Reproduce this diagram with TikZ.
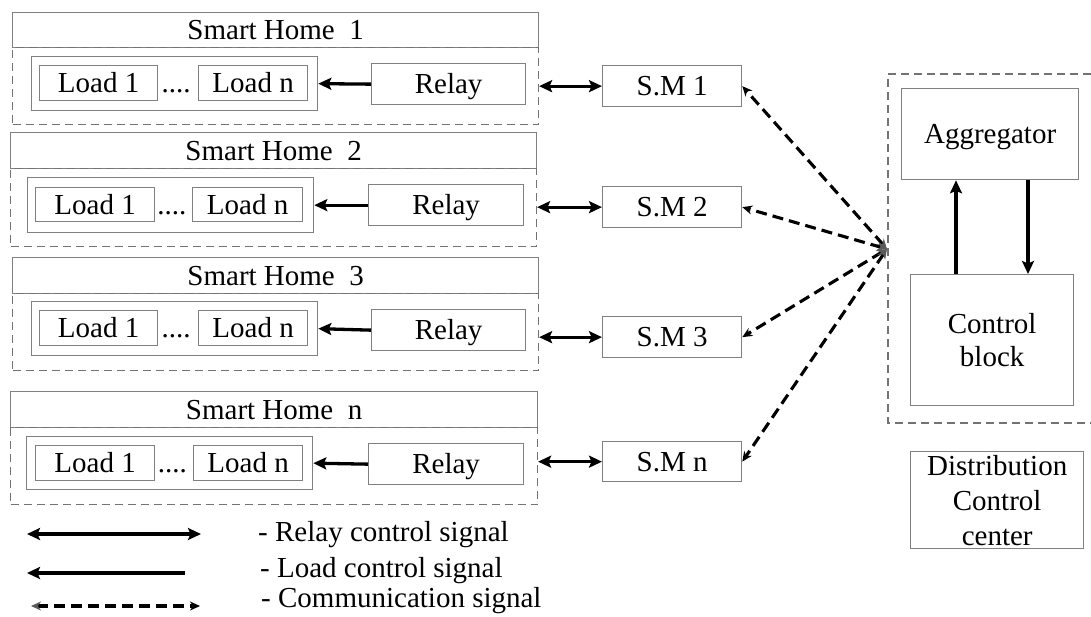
\documentclass[tikz,border=0pt]{standalone}
\usepackage{fontspec}
\setmainfont{Liberation Serif}
\usetikzlibrary{arrows.meta,calc}
\newcommand\dfont{\fontsize{29}{34}\selectfont}

\tikzset{
  box/.style={draw=black!50, line width=1.3pt, inner sep=0pt, anchor=north west,
              font=\dfont, align=center},
  onel/.style={text height=19pt, text depth=0pt},
  dbox/.style={draw=black!55, line width=1.1pt, dash pattern=on 8pt off 5pt,
               inner sep=0pt, anchor=north west},
  relayarrow/.style={line width=3.3pt,
     {Stealth[length=13pt,width=12pt,inset=2.5pt]}-{Stealth[length=13pt,width=12pt,inset=2.5pt]}},
  loadarrow/.style={line width=3.3pt, -{Stealth[length=13pt,width=12pt,inset=2.5pt]}},
  commarrow/.style={line width=3.1pt, dash pattern=on 11pt off 6pt,
     {Stealth[length=10pt,width=9pt,color=black!65]}-{Stealth[length=10pt,width=9pt]}},
  legtext/.style={anchor=base west, inner sep=0pt, font=\dfont},
}

\begin{document}
\begin{tikzpicture}[x=1pt,y=-1pt]
\useasboundingbox (0,0) rectangle (1091,616);

% ---------- smart homes: title, dashed frame, loads and relay ----------
% Smart Home 1
\node[box, onel, minimum width=526pt, minimum height=35pt] (t1) at (12,12) {Smart Home\ \ 1};
\node[dbox, minimum width=526pt, minimum height=77pt] (d1) at (12,47) {};
\node[box, minimum width=286pt, minimum height=54pt] (c1) at (31,56) {};
\node[box, onel, minimum width=118pt, minimum height=35pt] (la1) at (39,65) {Load 1};
\node[box, onel, minimum width=109pt, minimum height=35pt] (lb1) at (198,65) {Load n};
\node[box, onel, minimum width=154pt, minimum height=41pt] (r1) at (371,63) {Relay};

% Smart Home 2
\node[box, onel, minimum width=526pt, minimum height=36pt] (t2) at (10,132) {Smart Home\ \ 2};
\node[dbox, minimum width=526pt, minimum height=78pt] (d2) at (10,168) {};
\node[box, minimum width=286pt, minimum height=55pt] (c2) at (27,177) {};
\node[box, onel, minimum width=119pt, minimum height=34pt] (la2) at (35,187) {Load 1};
\node[box, onel, minimum width=110pt, minimum height=34pt] (lb2) at (192,187) {Load n};
\node[box, onel, minimum width=155pt, minimum height=41pt] (r2) at (368,184) {Relay};

% Smart Home 3
\node[box, onel, minimum width=526pt, minimum height=36pt] (t3) at (12,257) {Smart Home\ \ 3};
\node[dbox, minimum width=526pt, minimum height=77pt] (d3) at (12,293) {};
\node[box, minimum width=286pt, minimum height=54pt] (c3) at (31,301) {};
\node[box, onel, minimum width=118pt, minimum height=35pt] (la3) at (39,310) {Load 1};
\node[box, onel, minimum width=109pt, minimum height=35pt] (lb3) at (198,310) {Load n};
\node[box, onel, minimum width=154pt, minimum height=41pt] (r3) at (371,309) {Relay};

% Smart Home n
\node[box, onel, minimum width=527pt, minimum height=36pt] (t4) at (10,391) {Smart Home\ \ n};
\node[dbox, minimum width=527pt, minimum height=77pt] (d4) at (10,427) {};
\node[box, minimum width=286pt, minimum height=53pt] (c4) at (26,436) {};
\node[box, onel, minimum width=119pt, minimum height=35pt] (la4) at (35,445) {Load 1};
\node[box, onel, minimum width=109pt, minimum height=35pt] (lb4) at (193,445) {Load n};
\node[box, onel, minimum width=155pt, minimum height=41pt] (r4) at (368,443) {Relay};

% dots between the two loads of each home, and relay -> loads arrow
\foreach \i in {1,2,3,4}{
  \node[anchor=base, inner sep=0pt, font=\dfont] (dots\i)
    at ($(la\i.base east)!0.45!(lb\i.base west)$) {....};
  \draw[loadarrow] (r\i.west) -- (c\i.east);
}

% ---------- smart meters ----------
\node[box, onel, minimum width=139pt, minimum height=41pt] (sm1) at (602,65) {S.M 1};
\node[box, onel, minimum width=139pt, minimum height=41pt] (sm2) at (602,186) {S.M 2};
\node[box, onel, minimum width=139pt, minimum height=41pt] (sm3) at (602,316) {S.M 3};
\node[box, onel, minimum width=139pt, minimum height=40pt] (sm4) at (602,441) {S.M n};

\foreach \i in {1,2,3,4}{
  \draw[relayarrow] (d\i.east |- sm\i.west) -- (sm\i.west);
}

% ---------- distribution control center ----------
\coordinate (hub) at (887,249);
\draw[draw=black!55, line width=1.1pt, dash pattern=on 8pt off 5pt]
  (1091,74) -- (888,74) -- (888,423) -- (1091,423);
\node[box, onel, minimum width=177pt, minimum height=91pt] (agg) at (901,88) {Aggregator};
\node[box, minimum width=163pt, minimum height=131pt] (cb) at (910,274)
  {Control\\[-1pt]block};
\node[box, minimum width=173pt, minimum height=97pt, font=\fontsize{29}{35}\selectfont]
  (dcc) at (910,451) {Distribution\\Control\\center};

\coordinate (upx) at (956,0);
\coordinate (dnx) at (1028,0);
\draw[loadarrow] (cb.north -| upx) -- (agg.south -| upx);
\draw[loadarrow] (agg.south -| dnx) -- (cb.north -| dnx);

% communication links from the control center to every meter
\foreach \i in {1,2,3,4}{
  \draw[commarrow] (hub) -- (sm\i.east);
}

% ---------- legend ----------
\coordinate (ra) at (27,534);  \coordinate (rb) at (201,534);
\coordinate (la) at (185,573); \coordinate (lb) at (27,573);
\coordinate (ca) at (31,606);  \coordinate (cb2) at (200,606);
\draw[relayarrow] (ra) -- (rb);
\draw[loadarrow] (la) -- (lb);
\draw[commarrow] (ca) -- (cb2);
\node[legtext] (leg1) at (258,541) {- Relay control signal};
\node[legtext] (leg2) at (260,577) {- Load control signal};
\node[legtext] (leg3) at (261,607) {- Communication signal};
\end{tikzpicture}
\end{document}
